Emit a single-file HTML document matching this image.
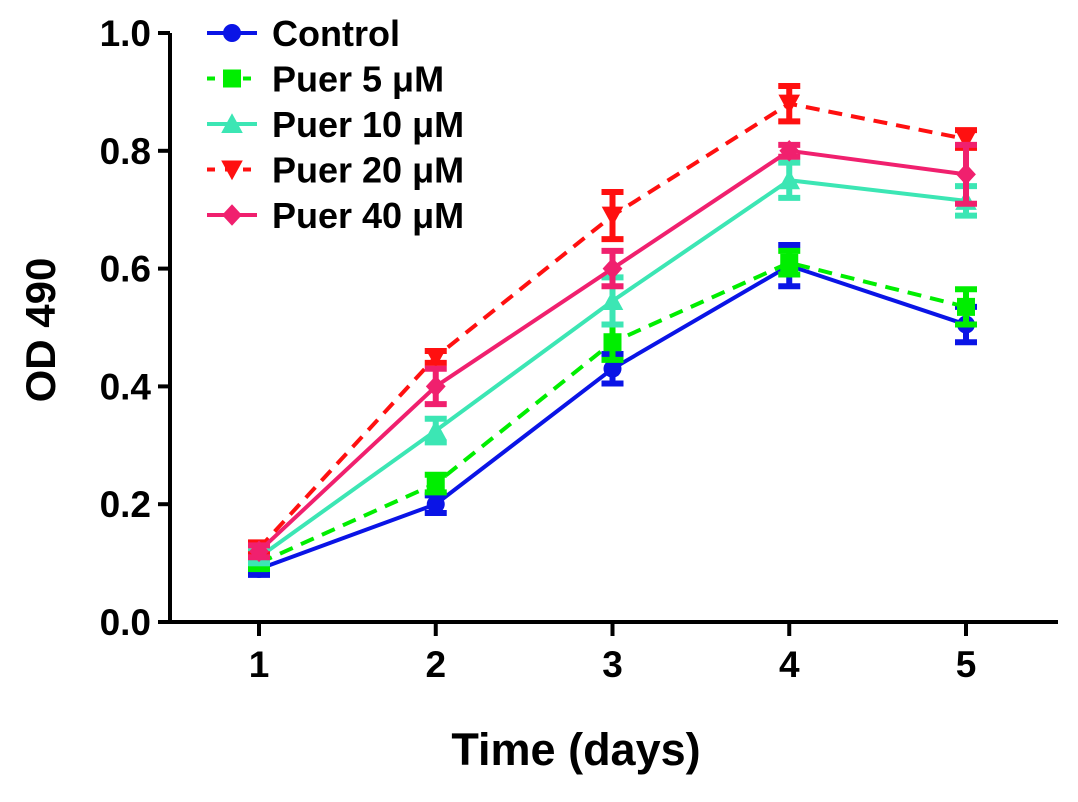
<!DOCTYPE html>
<html><head><meta charset="utf-8"><style>
body{margin:0;background:#fff;}
svg text{font-family:"Liberation Sans",Arial,sans-serif;font-weight:bold;fill:#000;}
</style></head><body>
<svg id="chart" width="1078" height="797" viewBox="0 0 1078 797"></svg>
<script>
const categories=[1,2,3,4,5];
const yTicks=[0.0,0.2,0.4,0.6,0.8,1.0];
const seriesNames=["Control","Puer 5 μM","Puer 10 μM","Puer 20 μM","Puer 40 μM"];
const control=[0.09,0.20,0.43,0.605,0.505];
const controlErr=[0.01,0.015,0.025,0.035,0.03];
const puer5=[0.10,0.235,0.475,0.61,0.535];
const puer5Err=[0.01,0.015,0.03,0.02,0.03];
const puer10=[0.11,0.325,0.545,0.75,0.715];
const puer10Err=[0.01,0.02,0.04,0.03,0.025];
const puer20=[0.125,0.45,0.69,0.88,0.82];
const puer20Err=[0.01,0.01,0.04,0.03,0.015];
const puer40=[0.12,0.40,0.60,0.80,0.76];
const puer40Err=[0.01,0.03,0.03,0.01,0.05];

const NS="http://www.w3.org/2000/svg";
const svg=document.getElementById('chart');
const x=v=>259+(v-1)*176.75;
const y=v=>622-589*v;
function mk(tag,attrs,parent){const e=document.createElementNS(NS,tag);for(const k in attrs)e.setAttribute(k,attrs[k]);(parent||svg).appendChild(e);return e;}

let a=mk('line',{x1:170,y1:y(1),x2:170,y2:624,stroke:'#000','stroke-width':4});


a=mk('line',{x1:168,y1:622,x2:1058,y2:622,stroke:'#000','stroke-width':4});


yTicks.forEach(t=>{
  const l=mk('line',{x1:158,y1:y(t),x2:170,y2:y(t),stroke:'#000','stroke-width':4});
  
  
  const tx=mk('text',{x:151,y:y(t)+13,'text-anchor':'end','font-size':37});
  tx.textContent=t.toFixed(1);
  
  
});
categories.forEach(c=>{
  const l=mk('line',{x1:x(c),y1:622,x2:x(c),y2:636,stroke:'#000','stroke-width':4});
  
  
  const tx=mk('text',{x:x(c),y:677,'text-anchor':'middle','font-size':37});
  tx.textContent=c;
  
  
});
let t=mk('text',{x:576,y:765,'text-anchor':'middle','font-size':45});
t.textContent='Time (days)';


t=mk('text',{x:0,y:0,'text-anchor':'middle','font-size':42,transform:'translate(55,330) rotate(-90)'});
t.textContent='OD 490';



const series=[
 {v:control,e:controlErr,c:'#0a14e6',dash:null,m:'circle'},
 {v:puer5,e:puer5Err,c:'#00ee00',dash:'14 9',m:'square'},
 {v:puer10,e:puer10Err,c:'#3ce6b4',dash:null,m:'tri'},
 {v:puer20,e:puer20Err,c:'#ff1010',dash:'14 9',m:'tridown'},
 {v:puer40,e:puer40Err,c:'#f0206e',dash:null,m:'diamond'}
];
function marker(type,cx,cy,c,s,g){
  if(type==='circle')return mk('circle',{cx,cy,r:s,fill:c},g);
  if(type==='square')return mk('rect',{x:cx-s,y:cy-s,width:2*s,height:2*s,fill:c},g);
  if(type==='tri')return mk('polygon',{points:`${cx},${cy-s*1.2} ${cx-s*1.2},${cy+s} ${cx+s*1.2},${cy+s}`,fill:c},g);
  if(type==='tridown')return mk('polygon',{points:`${cx},${cy+s*1.2} ${cx-s*1.2},${cy-s} ${cx+s*1.2},${cy-s}`,fill:c},g);
  return mk('polygon',{points:`${cx},${cy-s*1.2} ${cx+s*1.1},${cy} ${cx},${cy+s*1.2} ${cx-s*1.1},${cy}`,fill:c},g);
}
series.forEach((s,i)=>{
  const g=mk('g',{});
  
  
  const pts=categories.map((c,j)=>x(c)+','+y(s.v[j])).join(' ');
  const pl=mk('polyline',{points:pts,fill:'none',stroke:s.c,'stroke-width':4},g);
  if(s.dash)pl.setAttribute('stroke-dasharray',s.dash);
  
  
  categories.forEach((c,j)=>{
    const cx=x(c),hi=y(s.v[j]+s.e[j]),lo=y(s.v[j]-s.e[j]);
    const eb=mk('path',{d:`M${cx},${hi}V${lo}M${cx-11},${hi}H${cx+11}M${cx-11},${lo}H${cx+11}`,stroke:s.c,'stroke-width':6,fill:'none'},g);
    
    
    const m=marker(s.m,cx,y(s.v[j]),s.c,9,g);
    
    
  });
  const ly=33+i*45.5;
  const lg=mk('g',{});
  
  
  const ll=mk('line',{x1:207,y1:ly,x2:257,y2:ly,stroke:s.c,'stroke-width':4},lg);
  if(s.dash)ll.setAttribute('stroke-dasharray','8 10');
  marker(s.m,232,ly,s.c,9,lg);
  const lt=mk('text',{x:272,y:ly+13,'font-size':36},lg);
  lt.textContent=seriesNames[i];
});
</script>
</body></html>
